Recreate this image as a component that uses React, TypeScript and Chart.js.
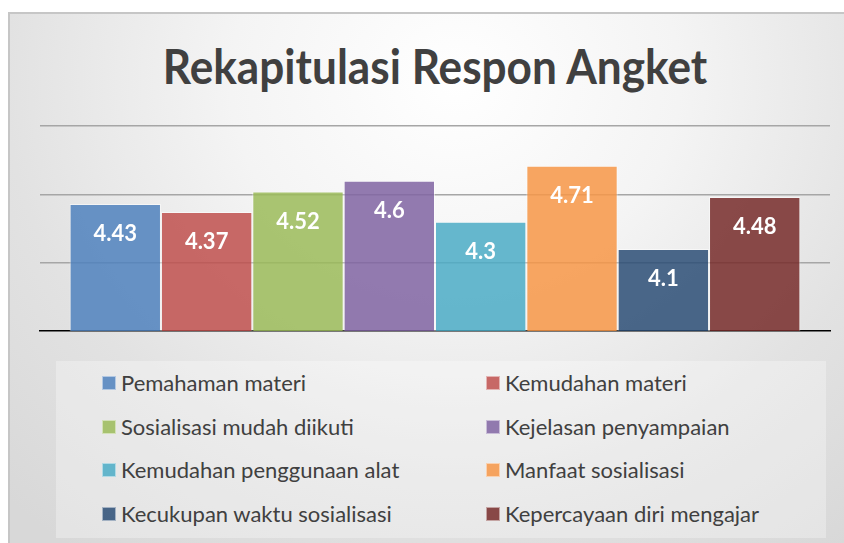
import React, { useEffect, useRef } from "react";
import { Chart, registerables } from "chart.js";

Chart.register(...registerables);

const titleText = "Rekapitulasi Respon Angket";
const categories = ["Respon"];
const seriesNames = [
  "Pemahaman materi",
  "Kemudahan materi",
  "Sosialisasi mudah diikuti",
  "Kejelasan penyampaian",
  "Kemudahan penggunaan alat",
  "Manfaat sosialisasi",
  "Kecukupan waktu sosialisasi",
  "Kepercayaan diri mengajar",
];
const seriesValues = [4.43, 4.37, 4.52, 4.6, 4.3, 4.71, 4.1, 4.48];
const seriesColors = [
  "rgba(79,129,189,0.85)",
  "rgba(192,80,77,0.85)",
  "rgba(155,187,89,0.85)",
  "rgba(128,100,162,0.85)",
  "rgba(75,172,198,0.85)",
  "rgba(247,150,70,0.85)",
  "rgba(44,77,117,0.85)",
  "rgba(119,44,42,0.85)",
];
const yMin = 3.5;
const yMax = 5;
const yStep = 0.5;

const FONT = "Lato, 'Open Sans', sans-serif";

const dataLabelPlugin = {
  id: "dataLabels",
  afterDatasetsDraw(chart: any) {
    const ctx = chart.ctx;
    ctx.save();
    ctx.fillStyle = "#ffffff";
    ctx.font = `bold 22px ${FONT}`;
    ctx.textAlign = "center";
    ctx.textBaseline = "middle";
    chart.data.datasets.forEach((ds: any, i: number) => {
      const meta = chart.getDatasetMeta(i);
      meta.data.forEach((bar: any, j: number) => {
        const v = ds.data[j];
        ctx.fillText(String(v), bar.x, bar.y + 30);
      });
    });
    ctx.restore();
  },
};

export default function App() {
  const canvasRef = useRef<HTMLCanvasElement | null>(null);

  useEffect(() => {
    document.body.style.margin = "0";
    const canvas = canvasRef.current;
    if (!canvas) return;
    const chart = new Chart(canvas, {
      type: "bar",
      data: {
        labels: categories,
        datasets: seriesNames.map((name, i) => ({
          label: name,
          data: [seriesValues[i]],
          backgroundColor: seriesColors[i],
          borderColor: "rgba(255,255,255,0.5)",
          borderWidth: 1,
          categoryPercentage: 0.925,
          barPercentage: 1,
        })),
      },
      options: {
        responsive: false,
        animation: false,
        devicePixelRatio: 1,
        layout: { padding: { left: 40, right: 14, top: 126, bottom: 212 } },
        plugins: {
          legend: { display: false },
          title: { display: false },
          tooltip: { enabled: false },
        },
        scales: {
          x: {
            display: true,
            ticks: { display: false },
            grid: { display: false, drawTicks: false },
            border: { display: true, color: "#000000", width: 1.5 },
          },
          y: {
            min: yMin,
            max: yMax,
            ticks: { display: false, stepSize: yStep },
            grid: {
              drawTicks: false,
              color: (c: any) => (c.tick && c.tick.value === yMin ? "rgba(0,0,0,0)" : "#a6a6a6"),
              lineWidth: 1.5,
            },
            border: { display: false },
          },
        },
      },
      plugins: [dataLabelPlugin],
    });
    return () => chart.destroy();
  }, []);

  const legendRows = [0, 1, 2, 3];
  const rowY = [383, 427, 470, 514];

  return (
    <div
      style={{
        position: "fixed",
        left: 0,
        top: 0,
        width: 844,
        height: 543,
        background: "#ffffff",
        overflow: "hidden",
      }}
    >
      <div
        style={{
          position: "absolute",
          left: 8,
          top: 12,
          width: 860,
          height: 560,
          boxSizing: "border-box",
          border: "2px solid #c6c6c6",
          background:
            "radial-gradient(ellipse 75% 105% at 52% 12%, #ffffff 0%, #f4f4f4 35%, #e2e2e2 70%, #d8d8d8 100%)",
        }}
      />
      <div
        style={{
          position: "absolute",
          left: 56,
          top: 361,
          width: 770,
          height: 177,
          background: "rgba(255,255,255,0.3)",
        }}
      />
      {legendRows.map((r) =>
        [0, 1].map((c) => {
          const idx = r * 2 + c;
          const sx = c === 0 ? 102 : 486;
          return (
            <div
              key={idx}
              style={{
                position: "absolute",
                left: sx,
                top: rowY[r] - 13,
                height: 26,
                display: "flex",
                alignItems: "center",
                whiteSpace: "nowrap",
              }}
            >
              <span
                style={{
                  display: "inline-block",
                  width: 12,
                  height: 12,
                  background: seriesColors[idx],
                  border: "1px solid rgba(255,255,255,0.5)",
                  marginRight: 5,
                }}
              />
              <span
                style={{
                  fontFamily: FONT,
                  fontSize: 22,
                  color: "#404040",
                  lineHeight: "26px",
                }}
              >
                {seriesNames[idx]}
              </span>
            </div>
          );
        })
      )}
      <div
        style={{
          position: "absolute",
          left: 0,
          width: 870,
          top: 36,
          textAlign: "center",
          fontFamily: FONT,
          fontWeight: 700,
          fontSize: 48,
          lineHeight: "60px",
          color: "#404040",
          whiteSpace: "nowrap",
          transform: "scaleX(0.92)",
          transformOrigin: "435px 0",
        }}
      >
        {titleText}
      </div>
      <canvas
        ref={canvasRef}
        width={844}
        height={543}
        style={{ position: "absolute", left: 0, top: 0, width: 844, height: 543 }}
      />
    </div>
  );
}
